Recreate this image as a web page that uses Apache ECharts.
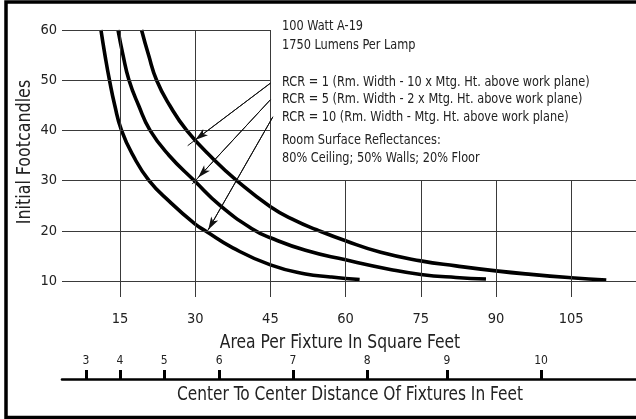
<!DOCTYPE html>
<html><head><meta charset="utf-8">
<script src="https://cdn.jsdelivr.net/npm/echarts@6/dist/echarts.min.js"></script>
<style>html,body{margin:0;padding:0;background:#fff}#c{width:636px;height:419px}</style>
</head><body><div id="c"></div>
<script>
const FONT = '"DejaVu Sans Condensed","Liberation Sans Narrow",Roboto,sans-serif';

// axis ticks
const areaTicks = [15, 30, 45, 60, 75, 90, 105];
const footcandleTicks = [10, 20, 30, 40, 50, 60];
const distanceLabels = ['3', '4', '5', '6', '7', '8', '9', '10'];
const distanceTickAreas = [8.2, 15.0, 23.8, 34.8, 49.5, 64.3, 80.2, 99.0];

// curves: [area per fixture (sq ft), initial footcandles]
const rcr1 = [[19.3,60],[20.7,55],[22.3,50],[24.9,45],[28.3,40],[33.5,34.4],[38.3,30],[45,24.8],[50,22.0],[54.2,20.2],[60,18.0],[67,15.7],[75,14.0],[82,13.0],[90,12.0],[97,11.3],[105,10.65],[112,10.2]];
const rcr5 = [[14.6,60],[15.6,55],[16.8,50],[18.7,45],[21,40],[24.8,35],[29.8,30],[35,25.0],[41.5,20.3],[45,18.6],[52,16.1],[60,14.2],[68.9,12.3],[75,11.3],[82,10.7],[88,10.4]];
const rcr10 = [[11.2,60],[12.0,55],[12.9,50],[13.95,45],[15.3,40],[17.6,35],[20.8,30],[25,25.7],[30,21.3],[32,20],[37.5,16.6],[45,13.2],[52,11.4],[57,10.8],[60,10.5],[62.8,10.3]];

// annotation text lines
const noteLines = [
  '100 Watt A-19',
  '1750 Lumens Per Lamp',
  'RCR = 1 (Rm. Width - 10 x Mtg. Ht. above work plane)',
  'RCR = 5 (Rm. Width - 2 x Mtg. Ht. above work plane)',
  'RCR = 10 (Rm. Width - Mtg. Ht. above work plane)',
  'Room Surface Reflectances:',
  '80% Ceiling; 50% Walls; 20% Floor'
];
// arrows: [start, arrow tip, line end] in data coords
const arrows = [
  [[45.0,49.4],[30.0,38.1],[28.5,36.95]],
  [[45.0,46.1],[30.6,30.6],[29.4,29.3]],
  [[45.5,42.7],[32.6,20.2],[32.6,20.2]]
];

const X_MIN = 3.43, X_MAX = 117.93, Y_MIN = 6.8, Y_MAX = 60;
const BOX_X = 45, BOX_Y = 30;

const gridLines = [];
footcandleTicks.forEach(v => {
  gridLines.push([{coord:[X_MIN, v]}, {coord:[v > BOX_Y ? BOX_X : X_MAX, v]}]);
});
areaTicks.forEach(v => {
  gridLines.push([{coord:[v, Y_MIN]}, {coord:[v, v > BOX_X ? BOX_Y : Y_MAX]}]);
});

const arrowLines = [], arrowHeads = [];
arrows.forEach(a => {
  arrowLines.push([{coord:a[0]}, {coord:a[2]}]);
  arrowHeads.push([{coord:a[0]}, {coord:a[1]}]);
});

const noteY = [26, 45, 82, 99, 117, 140, 158];

const chart = echarts.init(document.getElementById('c'), null, {renderer:'canvas'});
const curveStyle = {color:'#000', width:3.6};
const curveBase = {type:'line', xAxisIndex:0, yAxisIndex:0, smooth:0.5, showSymbol:false, lineStyle:curveStyle, z:3, silent:true};
chart.setOption({
  animation:false,
  backgroundColor:'#fff',
  textStyle:{fontFamily:FONT},
  grid:[
    {left:62, top:30, width:574, height:267},
    {left:62, top:379, width:574, height:10}
  ],
  xAxis:[
    {type:'value', gridIndex:0, min:X_MIN, max:X_MAX,
     axisLine:{show:false}, axisTick:{show:false}, splitLine:{show:false},
     axisLabel:{customValues:areaTicks, margin:15, fontSize:14.5, color:'#222', fontFamily:FONT}},
    {type:'value', gridIndex:1, position:'top', min:X_MIN, max:X_MAX,
     axisLine:{show:true, onZero:false, lineStyle:{color:'#000', width:2.6}},
     axisTick:{show:true, customValues:distanceTickAreas, length:9, lineStyle:{color:'#000', width:3}},
     splitLine:{show:false},
     axisLabel:{customValues:distanceTickAreas, margin:12, fontSize:12, color:'#222', fontFamily:FONT,
       formatter:function(v){
         let best = 0, d = 1e9;
         distanceTickAreas.forEach((t,i)=>{ if (Math.abs(t-v) < d) { d = Math.abs(t-v); best = i; } });
         return distanceLabels[best];
       }}}
  ],
  yAxis:[
    {type:'value', gridIndex:0, min:Y_MIN, max:Y_MAX,
     axisLine:{show:false}, axisTick:{show:false}, splitLine:{show:false},
     axisLabel:{customValues:footcandleTicks, margin:5, fontSize:14.5, color:'#222', fontFamily:FONT}},
    {type:'value', gridIndex:1, show:false, min:0, max:1}
  ],
  graphic:[
    {type:'rect', shape:{x:6, y:2, width:700, height:415.5}, style:{fill:null, stroke:'#000', lineWidth:3.5}, silent:true},
    {type:'text', x:340, y:343, scaleX:0.91, style:{text:'Area Per Fixture In Square Feet', font:'19px '+FONT, fill:'#222', align:'center', verticalAlign:'middle'}},
    {type:'text', x:350, y:395, scaleX:0.9, style:{text:'Center To Center Distance Of Fixtures In Feet', font:'19px '+FONT, fill:'#222', align:'center', verticalAlign:'middle'}},
    {type:'text', x:25, y:152, rotation:Math.PI/2, scaleX:0.93, style:{text:'Initial Footcandles', font:'19px '+FONT, fill:'#222', align:'center', verticalAlign:'middle'}}
  ].concat(noteLines.map((t,i)=>({type:'text', x:282, y:noteY[i], scaleX:0.9, style:{text:t, font:'14px '+FONT, fill:'#222', align:'left', verticalAlign:'middle'}}))),
  series:[
    {type:'line', xAxisIndex:0, yAxisIndex:0, data:[], silent:true, z:1,
     markLine:{silent:true, symbol:['none','none'], label:{show:false}, animation:false,
       lineStyle:{color:'#3a3a3a', width:1, type:'solid'}, emphasis:{disabled:true}, data:gridLines}},
    Object.assign({name:'RCR = 1', data:rcr1}, curveBase),
    Object.assign({name:'RCR = 5', data:rcr5}, curveBase),
    Object.assign({name:'RCR = 10', data:rcr10}, curveBase),
    {type:'line', xAxisIndex:0, yAxisIndex:0, data:[], silent:true, z:4,
     markLine:{silent:true, symbol:['none','none'], label:{show:false}, animation:false,
       lineStyle:{color:'#111', width:1, type:'solid'}, emphasis:{disabled:true}, data:arrowLines}},
    {type:'line', xAxisIndex:0, yAxisIndex:0, data:[], silent:true, z:4,
     markLine:{silent:true, symbol:['none','arrow'], symbolSize:[6,13], label:{show:false}, animation:false,
       lineStyle:{color:'#111', width:1, type:'solid'}, itemStyle:{color:'#111'}, emphasis:{disabled:true}, data:arrowHeads}}
  ]
});
</script>
</body></html>
